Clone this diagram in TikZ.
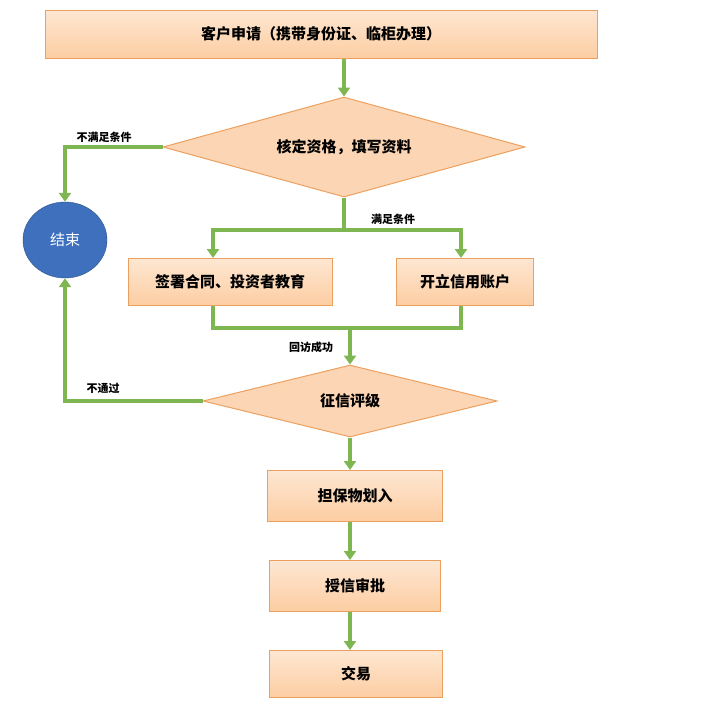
\documentclass[tikz,border=0pt]{standalone}
\usepackage{fontspec}
\setmainfont{Noto Sans CJK SC}
\usetikzlibrary{shapes.geometric,arrows.meta}
\definecolor{boxfill}{RGB}{252,214,180}
\definecolor{boxline}{RGB}{236,160,96}
\definecolor{flow}{RGB}{126,182,82}
\definecolor{endfill}{RGB}{62,112,190}
\tikzset{
  stepbox/.style={draw=boxline,line width=1pt,top color=boxfill!60!white,bottom color=boxfill!90!orange,font=\fontsize{15}{18}\selectfont\bfseries},
  choice/.style={diamond,draw=boxline,line width=1pt,fill=boxfill,inner sep=0pt,font=\fontsize{15}{18}\selectfont\bfseries},
  flowline/.style={draw=flow,line width=3.5pt},
  flowarrow/.style={flowline,-{Triangle[length=9pt,width=12pt]}},
  tag/.style={font=\fontsize{11}{13}\selectfont\bfseries}
}
\begin{document}
\begin{tikzpicture}[x=1pt,y=-1pt]
  \useasboundingbox (0,0) rectangle (708,715);
  % boxes
  \node[stepbox,minimum width=552,minimum height=48] (apply) at (321,34) {客户申请（携带身份证、临柜办理）};
  \node[choice,aspect=3.62,minimum width=362,minimum height=100] (check) at (344,147) {核定资格，填写资料};
  \node[ellipse,draw=endfill!70!black,fill=endfill,minimum width=84,minimum height=76,text=white,font=\fontsize{15}{18}\selectfont] (stop) at (65,240) {结束};
  \node[stepbox,minimum width=204,minimum height=47] (sign) at (230,282) {签署合同、投资者教育};
  \node[stepbox,minimum width=137,minimum height=47] (open) at (465,282) {开立信用账户};
  \node[choice,aspect=4.08,minimum width=294,minimum height=72] (rate) at (350,401) {征信评级};
  \node[stepbox,minimum width=175,minimum height=51] (pledge) at (355,496) {担保物划入};
  \node[stepbox,minimum width=171,minimum height=51] (grant) at (355,586) {授信审批};
  \node[stepbox,minimum width=173,minimum height=47] (trade) at (356,674) {交易};
  % connectors
  \coordinate (split) at (344,230);
  \coordinate (join) at (350,328);
  \draw[flowarrow] (apply.south -| check.north) -- (check.north);
  \draw[flowarrow] (check.west) -| (stop.north);
  \node[tag] (no1) at (104,137) {不满足条件};
  \draw[flowline] (check.south) -- (split);
  \draw[flowarrow] (split) -| (sign.north -| 213,0);
  \draw[flowarrow] (split) -| (open.north -| 461,0);
  \node[tag] (yes1) at (393,219) {满足条件};
  \draw[flowline] (sign.south -| 213,0) |- (join) -| (open.south -| 461,0);
  \draw[flowarrow] (join) -- (rate.north);
  \node[tag] (ok) at (311,347) {回访成功};
  \draw[flowarrow] (rate.west) -| (stop.south);
  \node[tag] (no2) at (103,388) {不通过};
  \draw[flowarrow] (rate.south) -- (rate.south |- pledge.north);
  \draw[flowarrow] (rate.south |- pledge.south) -- (rate.south |- grant.north);
  \draw[flowarrow] (rate.south |- grant.south) -- (rate.south |- trade.north);
\end{tikzpicture}
\end{document}
